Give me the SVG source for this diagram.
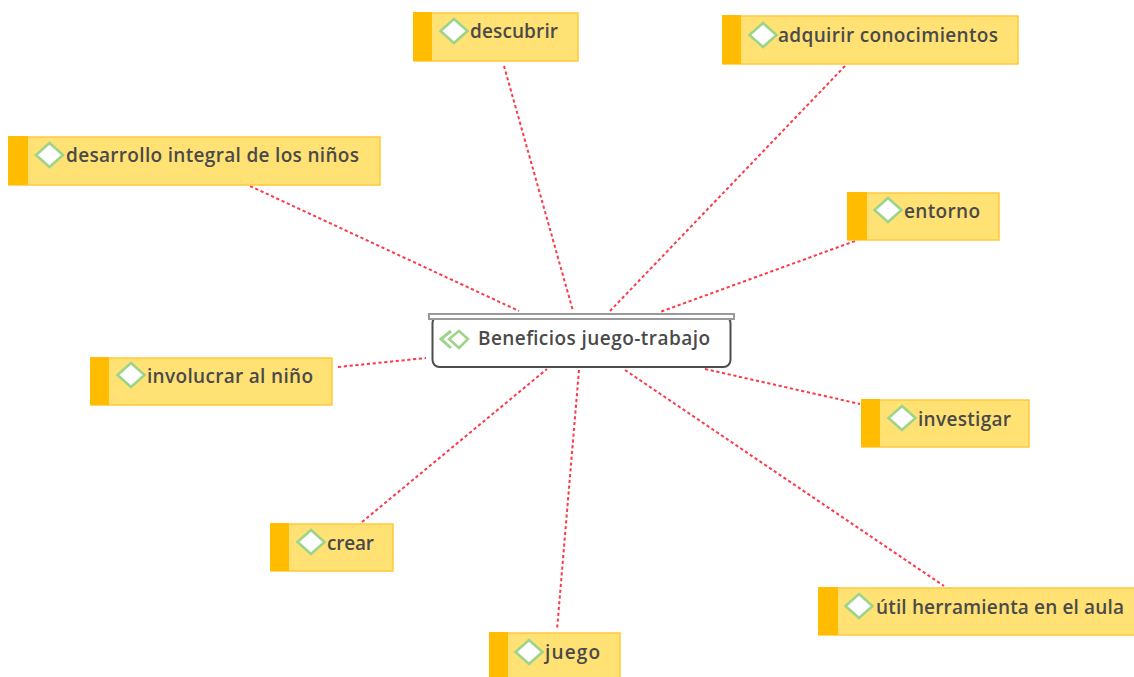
<svg xmlns="http://www.w3.org/2000/svg" width="1134" height="677" viewBox="0 0 1134 677">
<style>
.box{fill:#ffe174;stroke:#ffc93a;stroke-width:1.5}
.bar{fill:#ffbc00}
.dia{fill:#fff;stroke:#9ed48a;stroke-width:2.6}
.t{font-family:"Open Sans","DejaVu Sans",sans-serif;font-size:19px;font-weight:600;fill:#4a4a4a}
.c{stroke:#fb3a4a;stroke-width:2;stroke-dasharray:3.2 2.6;fill:none}
</style>
<defs>
<path id="d" class="dia" d="M0-12 13.500 0 0 12-13.500 0Z"/>
</defs>
<rect width="1134" height="677" fill="#fff"/>
<g id="connectors">
<line class="c" x1="504" y1="66" x2="573" y2="311"/>
<line class="c" x1="845" y1="66" x2="610" y2="311"/>
<line class="c" x1="250" y1="186" x2="519" y2="311"/>
<line class="c" x1="855" y1="241" x2="660" y2="312"/>
<line class="c" x1="338" y1="367" x2="426" y2="358"/>
<line class="c" x1="705" y1="369" x2="860" y2="404"/>
<line class="c" x1="362" y1="522" x2="547" y2="369"/>
<line class="c" x1="579" y1="370" x2="557" y2="630"/>
<line class="c" x1="625" y1="370" x2="944" y2="586"/>
</g>
<g id="center">
<rect x="432.500" y="316" width="298" height="51" rx="7" fill="#fff" stroke="#4d4d4d" stroke-width="2"/>
<rect x="429" y="314" width="305" height="5" fill="#fff" stroke="#9a9a9a" stroke-width="2"/>
<path d="M451 331 441 339 451 348" fill="none" stroke="#9ed48a" stroke-width="3"/>
<path d="M459 331 468 339 459 348 449 339Z" fill="#fff" stroke="#9ed48a" stroke-width="2.500"/>
<text class="t" x="478" y="345" textLength="232" lengthAdjust="spacing">Beneficios juego-trabajo</text>
</g>
<g id="n-descubrir"><rect class="box" x="414" y="13" width="164" height="48"/><rect class="bar" x="413" y="12" width="19" height="49"/><use href="#d" x="454" y="31"/><text class="t" x="470" y="38" textLength="88" lengthAdjust="spacing">descubrir</text></g>
<g id="n-adquirir"><rect class="box" x="723" y="16" width="295" height="48"/><rect class="bar" x="722" y="15" width="19" height="49"/><use href="#d" x="763" y="35"/><text class="t" x="778" y="42" textLength="220" lengthAdjust="spacing">adquirir conocimientos</text></g>
<g id="n-desarrollo"><rect class="box" x="9" y="137" width="371" height="48"/><rect class="bar" x="8" y="136" width="20" height="49"/><use href="#d" x="49.500" y="155"/><text class="t" x="66" y="162" textLength="293" lengthAdjust="spacing">desarrollo integral de los niños</text></g>
<g id="n-entorno"><rect class="box" x="848" y="193" width="151" height="47"/><rect class="bar" x="847" y="192" width="20" height="48"/><use href="#d" x="888" y="210"/><text class="t" x="904" y="218" textLength="76" lengthAdjust="spacing">entorno</text></g>
<g id="n-involucrar"><rect class="box" x="91" y="358" width="241" height="47"/><rect class="bar" x="90" y="357" width="19" height="48"/><use href="#d" x="131" y="375"/><text class="t" x="147" y="383" textLength="166" lengthAdjust="spacing">involucrar al niño</text></g>
<g id="n-investigar"><rect class="box" x="862" y="400" width="167" height="47"/><rect class="bar" x="861" y="399" width="19" height="48"/><use href="#d" x="902" y="418"/><text class="t" x="918" y="426" textLength="93" lengthAdjust="spacing">investigar</text></g>
<g id="n-crear"><rect class="box" x="271" y="524" width="122" height="47"/><rect class="bar" x="270" y="523" width="19" height="48"/><use href="#d" x="311" y="542"/><text class="t" x="327" y="550" textLength="47" lengthAdjust="spacing">crear</text></g>
<g id="n-util"><rect class="box" x="819" y="588" width="320" height="47"/><rect class="bar" x="818" y="587" width="20" height="48"/><use href="#d" x="859" y="606"/><text class="t" x="876" y="614" textLength="248" lengthAdjust="spacing">útil herramienta en el aula</text></g>
<g id="n-juego"><rect class="box" x="490" y="633" width="130" height="48"/><rect class="bar" x="489" y="632" width="19" height="49"/><use href="#d" x="529" y="652"/><text class="t" x="545" y="659" textLength="55" lengthAdjust="spacing">juego</text></g>
</svg>
